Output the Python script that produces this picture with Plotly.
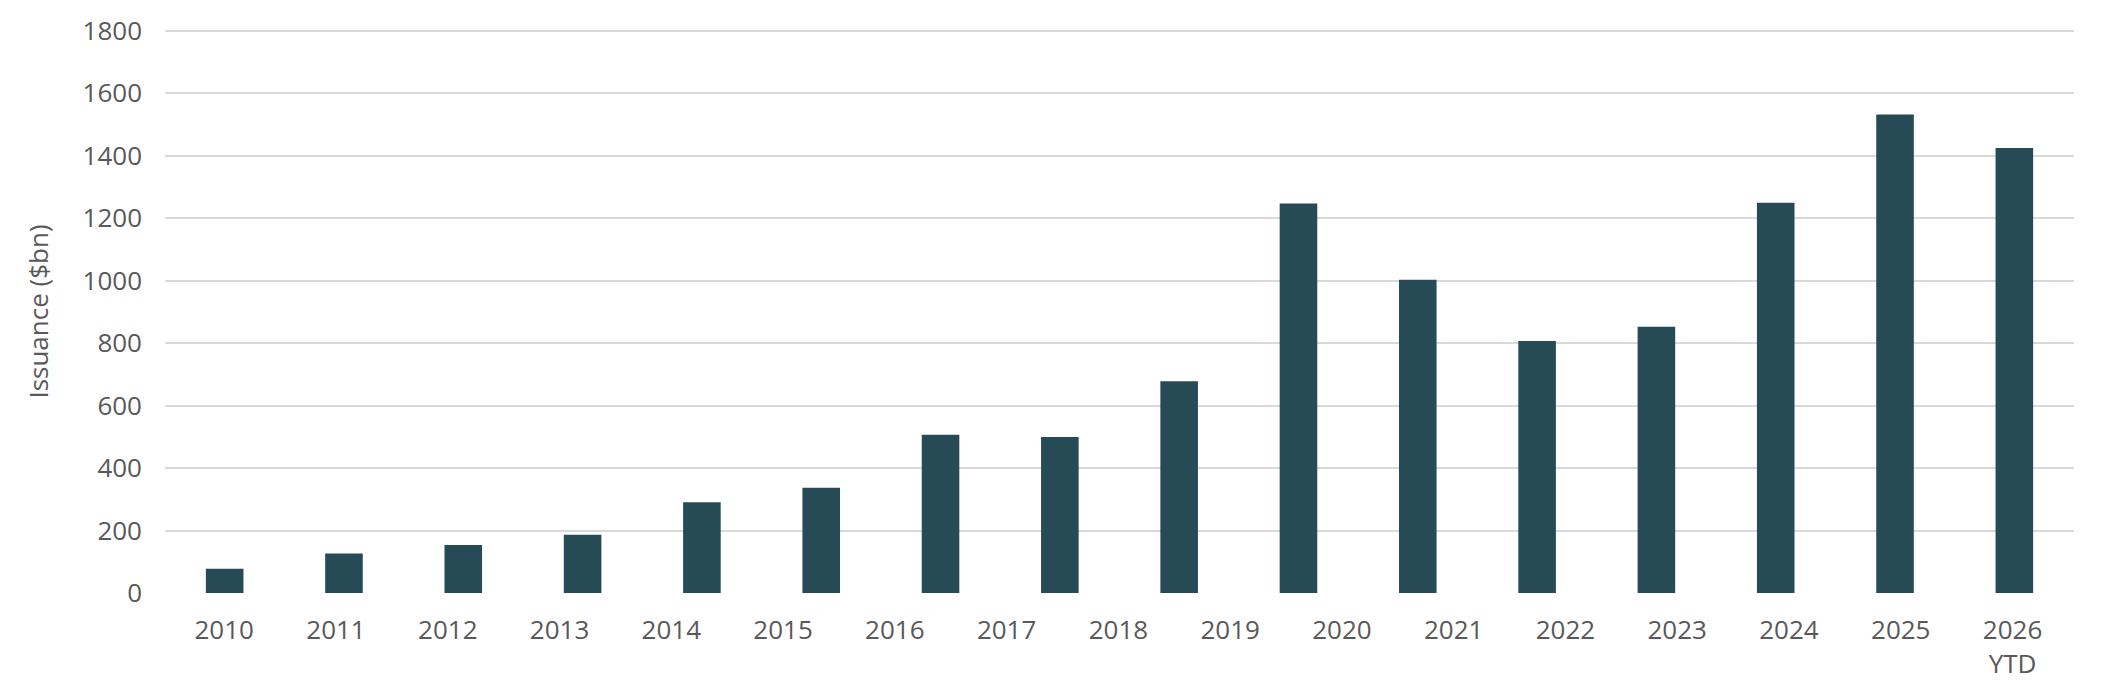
import plotly.graph_objects as go

# Data
values = [78, 127, 154, 187, 291, 337, 507, 500, 678, 1247, 1003, 807, 853, 1250, 1532, 1425]
bar_index = list(range(len(values)))
tick_labels = ["2010", "2011", "2012", "2013", "2014", "2015", "2016", "2017", "2018",
               "2019", "2020", "2021", "2022", "2023", "2024", "2025", "2026<br>YTD"]
y_ticks = [0, 200, 400, 600, 800, 1000, 1200, 1400, 1600, 1800]

BAR_COLOR = "#264B57"
TEXT_COLOR = "#595959"
GRID_COLOR = "#D9D9D9"
FONT = "Open Sans"
FS = 26

fig = go.Figure()
fig.add_trace(go.Bar(
    x=bar_index, y=values, marker=dict(color=BAR_COLOR, line=dict(width=0)),
    width=0.315, xaxis="x", yaxis="y", showlegend=False,
))
# invisible trace carrying the category labels
fig.add_trace(go.Scatter(
    x=tick_labels, y=[0] * len(tick_labels), mode="markers",
    marker=dict(opacity=0), xaxis="x2", yaxis="y", showlegend=False, hoverinfo="skip",
))

fig.update_layout(
    width=2104, height=686,
    margin=dict(l=165, r=30, t=21, b=92),
    paper_bgcolor="white", plot_bgcolor="white",
    font=dict(family=FONT, size=FS, color=TEXT_COLOR),
    xaxis=dict(
        range=[-0.5, len(values) - 0.5], showticklabels=False, showgrid=False,
        zeroline=False, showline=False, ticks="", automargin=False,
    ),
    xaxis2=dict(
        type="category", categoryarray=tick_labels, categoryorder="array",
        overlaying="x", anchor="y", side="bottom",
        range=[-0.53, len(tick_labels) - 0.45],
        showgrid=False, zeroline=False, showline=False,
        ticks="", ticklabelstandoff=18, automargin=False,
        tickfont=dict(family=FONT, size=FS, color=TEXT_COLOR),
    ),
    yaxis=dict(
        range=[-3, 1806], tickvals=y_ticks, showgrid=True, gridcolor=GRID_COLOR,
        gridwidth=1.6, zeroline=False, showline=False, ticks="",
        ticklabelstandoff=22, automargin=True,
        tickfont=dict(family=FONT, size=FS, color=TEXT_COLOR),
        title=dict(text="Issuance ($bn)", font=dict(family=FONT, size=FS, color=TEXT_COLOR),
                   standoff=26),
    ),
)

fig.write_html("out.html", config={"displayModeBar": False},
               post_script="document.body.style.margin='0';")
